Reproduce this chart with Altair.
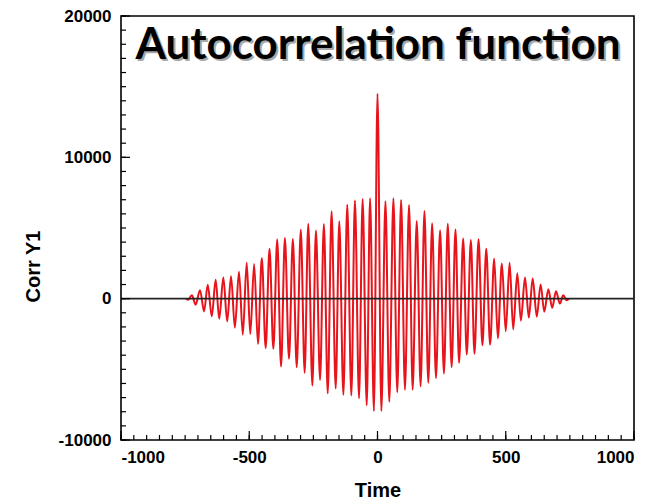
import altair as alt
import pandas as pd

# Autocorrelation values: extrema (time, Corr Y1)
times = [-746, -738, -724, -709, -692, -676, -662, -646, -631, -617, -601, -586,
         -571, -556, -540, -525, -510, -496, -481, -466, -451, -436, -421, -406,
         -391, -376, -361, -345, -330, -315, -299, -284, -270, -254, -240, -224,
         -209, -194, -179, -163, -149, -133, -118, -102, -88, -72, -58, -42,
         -29, -14, 0, 15, 31, 46, 62, 77, 92, 107, 123, 137,
         153, 168, 183, 198, 213, 228, 244, 259, 274, 289, 304, 318,
         334, 348, 364, 378, 394, 409, 424, 439, 455, 469, 485, 500,
         515, 529, 545, 559, 575, 590, 605, 621, 636, 650, 666, 681,
         696, 711, 724, 738, 746]
corr = [0, -80, 250, -420, 590, -900, 990, -1250, 1340, -1420, 1490, -1610,
        1580, -2050, 1910, -2550, 2540, -2500, 2460, -3200, 2880, -3500, 3540, -3550,
        4180, -4800, 4300, -4250, 4220, -4850, 4880, -5250, 5300, -6150, 4820, -5750,
        5290, -6700, 6180, -6350, 5470, -6800, 6650, -6850, 6950, -7050, 7050, -7550,
        7100, -7950, 14500, -7950, 6900, -7300, 7100, -6620, 6980, -6440, 6630, -6440,
        5500, -6200, 6200, -5950, 5330, -5620, 4840, -5300, 5300, -4850, 4900, -4540,
        4250, -3950, 4150, -3900, 4200, -3300, 3540, -3250, 2850, -2800, 2480, -2300,
        2540, -2170, 1790, -1560, 1490, -1340, 1420, -1270, 1010, -920, 660, -640,
        520, -350, 240, -120, 0]

x_major = [-1000, -500, 0, 500, 1000]
x_minor = list(range(-1000, 1001, 50))
y_major = [-10000, 0, 10000, 20000]
y_minor = list(range(-10000, 20001, 1000))

title_text = "Autocorrelation function"

W, H = 513, 424
xs = alt.Scale(domain=[-1000, 1000], nice=False, zero=False)
ys = alt.Scale(domain=[-10000, 20000], nice=False, zero=False)
x_axis = alt.Axis(values=x_major, labelExpr="datum.value + ''", ticks=False, tickSize=0,
                  domain=False, grid=False, labelPadding=9, titlePadding=15)
y_axis = alt.Axis(values=y_major, labelExpr="datum.value + ''", ticks=False, tickSize=0,
                  domain=False, grid=False, labelPadding=10, titlePadding=15, titleY=250)
X = alt.X("t:Q", scale=xs, title="Time", axis=x_axis)
Y = alt.Y("v:Q", scale=ys, title="Corr Y1", axis=y_axis)

df = pd.DataFrame({"t": times, "v": corr})

line = alt.Chart(df).mark_line(color="#e8141b", strokeWidth=2, interpolate="monotone").encode(
    x=X, y=Y
)

zero = alt.Chart(pd.DataFrame({"v": [0]})).mark_rule(color="#222222", strokeWidth=1.6).encode(y=Y)

xmin_t = alt.Chart(pd.DataFrame({"t": x_minor})).mark_rule(color="black", strokeWidth=1.2).encode(
    x=X, y=alt.value(H), y2=alt.value(H - 5)
)
xmaj_t = alt.Chart(pd.DataFrame({"t": x_major})).mark_rule(color="black", strokeWidth=1.2).encode(
    x=X, y=alt.value(H), y2=alt.value(H - 9)
)
ymin_t = alt.Chart(pd.DataFrame({"v": y_minor})).mark_rule(color="black", strokeWidth=1.2).encode(
    y=Y, x=alt.value(0), x2=alt.value(5)
)
ymaj_t = alt.Chart(pd.DataFrame({"v": y_major})).mark_rule(color="black", strokeWidth=1.2).encode(
    y=Y, x=alt.value(0), x2=alt.value(9)
)

tdf = pd.DataFrame({"label": [title_text]})
shadow = alt.Chart(tdf).mark_text(font="Lato", fontWeight="bold", fontSize=44, color="#a8a8a8",
                                  align="center", baseline="middle", dx=2, dy=2).encode(
    x=alt.value(257), y=alt.value(30), text="label:N"
)
title = alt.Chart(tdf).mark_text(font="Lato", fontWeight="bold", fontSize=44, color="black",
                                 align="center", baseline="middle").encode(
    x=alt.value(257), y=alt.value(30), text="label:N"
)

chart = alt.layer(line, zero, xmin_t, xmaj_t, ymin_t, ymaj_t, shadow, title).properties(
    width=W, height=H,
    autosize=alt.AutoSizeParams(type="none"),
    padding={"left": 113, "top": 8, "right": 23, "bottom": 64},
).configure_view(
    stroke="black", strokeWidth=1.6
).configure_axis(
    labelFont="Liberation Sans", labelFontWeight="bold", labelFontSize=17, labelColor="black",
    titleFont="Liberation Sans", titleFontWeight="bold", titleFontSize=20, titleColor="black",
)

chart.save("out.html", embed_options={"renderer": "svg", "actions": False})
